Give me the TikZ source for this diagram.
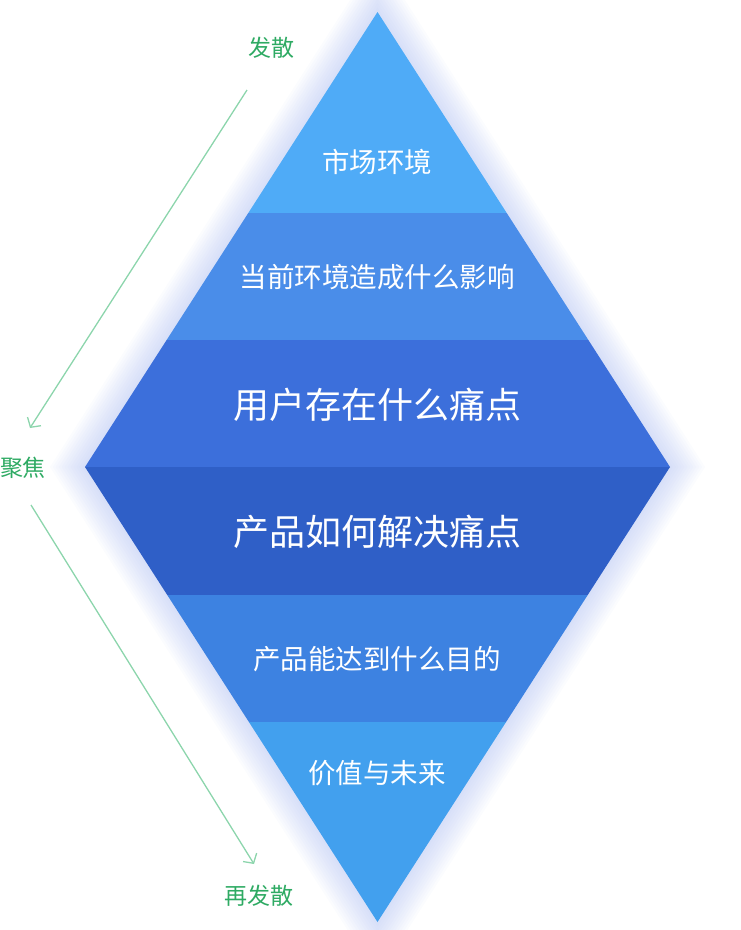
\documentclass[tikz,border=0pt]{standalone}
\usepackage{fontspec}
\setmainfont{Noto Sans CJK SC}
\usetikzlibrary{arrows.meta}
\definecolor{bandA}{HTML}{4FABF7}
\definecolor{bandB}{HTML}{4A8DE9}
\definecolor{bandC}{HTML}{3C6FDB}
\definecolor{bandD}{HTML}{2F5FC7}
\definecolor{bandE}{HTML}{3D82E1}
\definecolor{bandF}{HTML}{42A0EE}
\definecolor{glow}{HTML}{9AAEEE}
\definecolor{labgreen}{HTML}{2EAA63}
\definecolor{arrgreen}{HTML}{8CD5AC}
\tikzset{
	bandtext/.style={text=white,font=\fontsize{27.5}{30}\selectfont},
	bigtext/.style={text=white,font=\fontsize{36}{40}\selectfont},
	flowlabel/.style={text=labgreen,font=\fontsize{23}{26}\selectfont},
	flowarrow/.style={draw=arrgreen,line width=1.3pt,-{Straight Barb[length=7pt,width=16pt,line width=1.3pt]}}
}
\begin{document}
\begin{tikzpicture}[x=1pt,y=-1pt]
\useasboundingbox (0,0) rectangle (740,930);
% soft glow round the diamond
\foreach \s in {1.12,1.11,...,1.0}{
	\fill[glow,opacity=0.04] ({377.5-292.5*\s},467) -- (377.5,{467-455*\s}) -- ({377.5+292.5*\s},467) -- (377.5,{467+455*\s}) -- cycle;}
% bands
\foreach \ya/\yb/\col in {12/213/bandA,213/340/bandB,340/467/bandC,467/595/bandD,595/722/bandE,722/922/bandF}{
	\fill[\col] ({377.5-292.5*(1-abs(\ya-467)/455)},\ya) -- ({377.5+292.5*(1-abs(\ya-467)/455)},\ya)
		-- ({377.5+292.5*(1-abs(\yb-467)/455)},\yb) -- ({377.5-292.5*(1-abs(\yb-467)/455)},\yb) -- cycle;}
\node[bandtext] (market) at (377,162) {市场环境};
\node[bandtext] (impact) at (377,277) {当前环境造成什么影响};
\node[bigtext] (pain) at (377,405) {用户存在什么痛点};
\node[bigtext] (solve) at (377,532) {产品如何解决痛点};
\node[bandtext] (goal) at (377,659) {产品能达到什么目的};
\node[bandtext] (value) at (377,773) {价值与未来};
% side flow
\node[flowlabel] (diverge) at (271,48) {发散};
\node[flowlabel] (focus) at (23,468) {聚焦};
\node[flowlabel] (rediverge) at (259,896) {再发散};
\coordinate (d1) at (247,90);
\coordinate (f1) at (30,428);
\coordinate (f2) at (31,505);
\coordinate (r1) at (254,864);
\draw[flowarrow] (d1) -- (f1);
\draw[flowarrow] (f2) -- (r1);
\end{tikzpicture}
\end{document}
